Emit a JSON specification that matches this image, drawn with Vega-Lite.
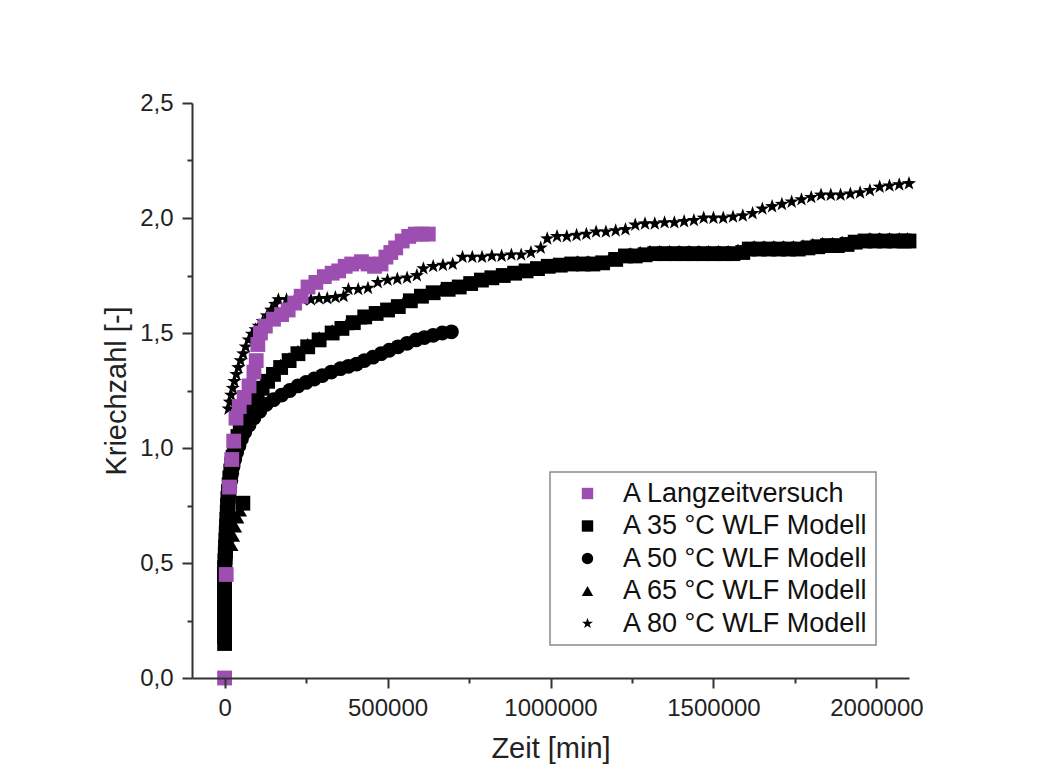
{
"$schema": "https://vega.github.io/schema/vega-lite/v6.json",
"width": 717,
"height": 575,
"autosize": "none",
"padding": {"left": 192, "top": 103, "right": 131, "bottom": 86},
"background": "white",
"data": {"values": [
{"s":"A 35 °C WLF Modell","t":0,"k":0.15},{"s":"A 35 °C WLF Modell","t":0,"k":0.18},{"s":"A 35 °C WLF Modell","t":0,"k":0.21},{"s":"A 35 °C WLF Modell","t":0,"k":0.24},{"s":"A 35 °C WLF Modell","t":0,"k":0.27},{"s":"A 35 °C WLF Modell","t":0,"k":0.30},{"s":"A 35 °C WLF Modell","t":0,"k":0.33},{"s":"A 35 °C WLF Modell","t":0,"k":0.36},{"s":"A 35 °C WLF Modell","t":0,"k":0.39},{"s":"A 35 °C WLF Modell","t":0,"k":0.42},{"s":"A 35 °C WLF Modell","t":0,"k":0.45},{"s":"A 35 °C WLF Modell","t":0,"k":0.48},
{"s":"A 35 °C WLF Modell","t":1000,"k":0.51},{"s":"A 35 °C WLF Modell","t":2000,"k":0.54},{"s":"A 35 °C WLF Modell","t":3000,"k":0.57},{"s":"A 35 °C WLF Modell","t":4000,"k":0.60},{"s":"A 35 °C WLF Modell","t":5000,"k":0.63},{"s":"A 35 °C WLF Modell","t":6000,"k":0.66},{"s":"A 35 °C WLF Modell","t":7000,"k":0.69},{"s":"A 35 °C WLF Modell","t":8000,"k":0.72},{"s":"A 35 °C WLF Modell","t":9000,"k":0.75},{"s":"A 35 °C WLF Modell","t":10000,"k":0.78},{"s":"A 35 °C WLF Modell","t":12000,"k":0.81},{"s":"A 35 °C WLF Modell","t":14000,"k":0.84},{"s":"A 35 °C WLF Modell","t":16000,"k":0.87},{"s":"A 35 °C WLF Modell","t":19000,"k":0.90},{"s":"A 35 °C WLF Modell","t":22000,"k":0.93},{"s":"A 35 °C WLF Modell","t":26000,"k":0.96},{"s":"A 35 °C WLF Modell","t":30000,"k":0.99},{"s":"A 35 °C WLF Modell","t":35000,"k":1.02},{"s":"A 35 °C WLF Modell","t":41000,"k":1.05},{"s":"A 35 °C WLF Modell","t":48000,"k":1.08},{"s":"A 35 °C WLF Modell","t":56000,"k":0.76},{"s":"A 35 °C WLF Modell","t":56000,"k":1.11},{"s":"A 35 °C WLF Modell","t":65000,"k":1.14},{"s":"A 35 °C WLF Modell","t":75000,"k":1.17},{"s":"A 35 °C WLF Modell","t":87000,"k":1.20},{"s":"A 35 °C WLF Modell","t":100000,"k":1.23},{"s":"A 35 °C WLF Modell","t":115000,"k":1.26},{"s":"A 35 °C WLF Modell","t":132000,"k":1.29},{"s":"A 35 °C WLF Modell","t":150000,"k":1.32},{"s":"A 35 °C WLF Modell","t":172000,"k":1.35},{"s":"A 35 °C WLF Modell","t":198000,"k":1.38},{"s":"A 35 °C WLF Modell","t":225000,"k":1.41},{"s":"A 35 °C WLF Modell","t":255000,"k":1.44},{"s":"A 35 °C WLF Modell","t":290000,"k":1.47},{"s":"A 35 °C WLF Modell","t":330000,"k":1.50},{"s":"A 35 °C WLF Modell","t":360000,"k":1.52},{"s":"A 35 °C WLF Modell","t":395000,"k":1.545},{"s":"A 35 °C WLF Modell","t":430000,"k":1.57},{"s":"A 35 °C WLF Modell","t":465000,"k":1.585},{"s":"A 35 °C WLF Modell","t":500000,"k":1.60},{"s":"A 35 °C WLF Modell","t":533000,"k":1.615},{"s":"A 35 °C WLF Modell","t":570000,"k":1.64},{"s":"A 35 °C WLF Modell","t":604000,"k":1.66},{"s":"A 35 °C WLF Modell","t":640000,"k":1.675},{"s":"A 35 °C WLF Modell","t":686000,"k":1.69},{"s":"A 35 °C WLF Modell","t":720000,"k":1.70},{"s":"A 35 °C WLF Modell","t":755000,"k":1.715},{"s":"A 35 °C WLF Modell","t":788000,"k":1.73},{"s":"A 35 °C WLF Modell","t":820000,"k":1.74},{"s":"A 35 °C WLF Modell","t":855000,"k":1.75},{"s":"A 35 °C WLF Modell","t":890000,"k":1.76},{"s":"A 35 °C WLF Modell","t":925000,"k":1.77},{"s":"A 35 °C WLF Modell","t":960000,"k":1.78},{"s":"A 35 °C WLF Modell","t":993000,"k":1.79},{"s":"A 35 °C WLF Modell","t":1030000,"k":1.795},{"s":"A 35 °C WLF Modell","t":1065000,"k":1.80},{"s":"A 35 °C WLF Modell","t":1100000,"k":1.80},{"s":"A 35 °C WLF Modell","t":1130000,"k":1.80},{"s":"A 35 °C WLF Modell","t":1160000,"k":1.805},{"s":"A 35 °C WLF Modell","t":1200000,"k":1.82},{"s":"A 35 °C WLF Modell","t":1230000,"k":1.835},{"s":"A 35 °C WLF Modell","t":1260000,"k":1.835},{"s":"A 35 °C WLF Modell","t":1290000,"k":1.84},{"s":"A 35 °C WLF Modell","t":1320000,"k":1.845},{"s":"A 35 °C WLF Modell","t":1350000,"k":1.845},{"s":"A 35 °C WLF Modell","t":1380000,"k":1.845},{"s":"A 35 °C WLF Modell","t":1410000,"k":1.845},{"s":"A 35 °C WLF Modell","t":1440000,"k":1.845},{"s":"A 35 °C WLF Modell","t":1470000,"k":1.845},{"s":"A 35 °C WLF Modell","t":1500000,"k":1.845},{"s":"A 35 °C WLF Modell","t":1530000,"k":1.845},{"s":"A 35 °C WLF Modell","t":1560000,"k":1.845},{"s":"A 35 °C WLF Modell","t":1590000,"k":1.85},{"s":"A 35 °C WLF Modell","t":1610000,"k":1.865},{"s":"A 35 °C WLF Modell","t":1640000,"k":1.865},{"s":"A 35 °C WLF Modell","t":1670000,"k":1.865},{"s":"A 35 °C WLF Modell","t":1700000,"k":1.865},{"s":"A 35 °C WLF Modell","t":1730000,"k":1.865},{"s":"A 35 °C WLF Modell","t":1760000,"k":1.865},{"s":"A 35 °C WLF Modell","t":1790000,"k":1.87},{"s":"A 35 °C WLF Modell","t":1820000,"k":1.875},{"s":"A 35 °C WLF Modell","t":1850000,"k":1.88},{"s":"A 35 °C WLF Modell","t":1880000,"k":1.88},{"s":"A 35 °C WLF Modell","t":1910000,"k":1.885},{"s":"A 35 °C WLF Modell","t":1935000,"k":1.895},{"s":"A 35 °C WLF Modell","t":1965000,"k":1.90},{"s":"A 35 °C WLF Modell","t":1995000,"k":1.90},{"s":"A 35 °C WLF Modell","t":2025000,"k":1.90},{"s":"A 35 °C WLF Modell","t":2055000,"k":1.90},{"s":"A 35 °C WLF Modell","t":2085000,"k":1.90},{"s":"A 35 °C WLF Modell","t":2100000,"k":1.90},
{"s":"A 50 °C WLF Modell","t":2000,"k":0.50},{"s":"A 50 °C WLF Modell","t":3000,"k":0.53},{"s":"A 50 °C WLF Modell","t":4000,"k":0.56},{"s":"A 50 °C WLF Modell","t":5000,"k":0.59},{"s":"A 50 °C WLF Modell","t":6000,"k":0.62},{"s":"A 50 °C WLF Modell","t":7000,"k":0.65},{"s":"A 50 °C WLF Modell","t":8000,"k":0.68},{"s":"A 50 °C WLF Modell","t":9000,"k":0.71},{"s":"A 50 °C WLF Modell","t":10000,"k":0.74},{"s":"A 50 °C WLF Modell","t":12000,"k":0.77},{"s":"A 50 °C WLF Modell","t":14000,"k":0.80},{"s":"A 50 °C WLF Modell","t":16000,"k":0.83},{"s":"A 50 °C WLF Modell","t":19000,"k":0.86},{"s":"A 50 °C WLF Modell","t":22000,"k":0.89},{"s":"A 50 °C WLF Modell","t":26000,"k":0.92},{"s":"A 50 °C WLF Modell","t":31000,"k":0.95},{"s":"A 50 °C WLF Modell","t":37000,"k":0.98},{"s":"A 50 °C WLF Modell","t":44000,"k":1.01},{"s":"A 50 °C WLF Modell","t":52000,"k":1.04},{"s":"A 50 °C WLF Modell","t":62000,"k":1.07},{"s":"A 50 °C WLF Modell","t":75000,"k":1.10},{"s":"A 50 °C WLF Modell","t":90000,"k":1.13},{"s":"A 50 °C WLF Modell","t":108000,"k":1.16},{"s":"A 50 °C WLF Modell","t":128000,"k":1.19},{"s":"A 50 °C WLF Modell","t":150000,"k":1.21},{"s":"A 50 °C WLF Modell","t":175000,"k":1.23},{"s":"A 50 °C WLF Modell","t":200000,"k":1.25},{"s":"A 50 °C WLF Modell","t":225000,"k":1.27},{"s":"A 50 °C WLF Modell","t":250000,"k":1.285},{"s":"A 50 °C WLF Modell","t":275000,"k":1.30},{"s":"A 50 °C WLF Modell","t":300000,"k":1.315},{"s":"A 50 °C WLF Modell","t":327000,"k":1.33},{"s":"A 50 °C WLF Modell","t":355000,"k":1.345},{"s":"A 50 °C WLF Modell","t":380000,"k":1.355},{"s":"A 50 °C WLF Modell","t":405000,"k":1.365},{"s":"A 50 °C WLF Modell","t":429000,"k":1.38},{"s":"A 50 °C WLF Modell","t":455000,"k":1.395},{"s":"A 50 °C WLF Modell","t":480000,"k":1.41},{"s":"A 50 °C WLF Modell","t":505000,"k":1.425},{"s":"A 50 °C WLF Modell","t":532000,"k":1.44},{"s":"A 50 °C WLF Modell","t":560000,"k":1.455},{"s":"A 50 °C WLF Modell","t":587000,"k":1.47},{"s":"A 50 °C WLF Modell","t":613000,"k":1.48},{"s":"A 50 °C WLF Modell","t":640000,"k":1.49},{"s":"A 50 °C WLF Modell","t":668000,"k":1.50},{"s":"A 50 °C WLF Modell","t":696000,"k":1.505},
{"s":"A 65 °C WLF Modell","t":20000,"k":0.58},{"s":"A 65 °C WLF Modell","t":25000,"k":0.62},{"s":"A 65 °C WLF Modell","t":31000,"k":0.66},{"s":"A 65 °C WLF Modell","t":38000,"k":0.70},{"s":"A 65 °C WLF Modell","t":46000,"k":0.73},{"s":"A 65 °C WLF Modell","t":18000,"k":0.92},{"s":"A 65 °C WLF Modell","t":24000,"k":0.96},{"s":"A 65 °C WLF Modell","t":30000,"k":1.0},{"s":"A 65 °C WLF Modell","t":36000,"k":1.03},
{"s":"A 65 °C WLF Modell","t":41000,"k":1.06},{"s":"A 65 °C WLF Modell","t":48000,"k":1.09},{"s":"A 65 °C WLF Modell","t":56000,"k":1.12},{"s":"A 65 °C WLF Modell","t":65000,"k":1.15},{"s":"A 65 °C WLF Modell","t":75000,"k":1.18},{"s":"A 65 °C WLF Modell","t":87000,"k":1.21},{"s":"A 65 °C WLF Modell","t":100000,"k":1.24},{"s":"A 65 °C WLF Modell","t":115000,"k":1.27},{"s":"A 65 °C WLF Modell","t":132000,"k":1.30},{"s":"A 65 °C WLF Modell","t":150000,"k":1.33},{"s":"A 65 °C WLF Modell","t":172000,"k":1.36},{"s":"A 65 °C WLF Modell","t":198000,"k":1.39},{"s":"A 65 °C WLF Modell","t":225000,"k":1.42},{"s":"A 65 °C WLF Modell","t":255000,"k":1.45},{"s":"A 65 °C WLF Modell","t":290000,"k":1.48},{"s":"A 65 °C WLF Modell","t":330000,"k":1.51},{"s":"A 65 °C WLF Modell","t":375000,"k":1.54},{"s":"A 65 °C WLF Modell","t":415000,"k":1.565},{"s":"A 65 °C WLF Modell","t":450000,"k":1.585},{"s":"A 65 °C WLF Modell","t":485000,"k":1.60},{"s":"A 65 °C WLF Modell","t":518000,"k":1.615},{"s":"A 65 °C WLF Modell","t":552000,"k":1.64},{"s":"A 65 °C WLF Modell","t":590000,"k":1.66},{"s":"A 65 °C WLF Modell","t":625000,"k":1.675},{"s":"A 65 °C WLF Modell","t":665000,"k":1.69},{"s":"A 65 °C WLF Modell","t":705000,"k":1.705},{"s":"A 65 °C WLF Modell","t":740000,"k":1.72},{"s":"A 65 °C WLF Modell","t":772000,"k":1.735},{"s":"A 65 °C WLF Modell","t":805000,"k":1.745},{"s":"A 65 °C WLF Modell","t":840000,"k":1.755},{"s":"A 65 °C WLF Modell","t":872000,"k":1.765},{"s":"A 65 °C WLF Modell","t":908000,"k":1.775},{"s":"A 65 °C WLF Modell","t":943000,"k":1.785},{"s":"A 65 °C WLF Modell","t":977000,"k":1.795},{"s":"A 65 °C WLF Modell","t":1012000,"k":1.80},{"s":"A 65 °C WLF Modell","t":1048000,"k":1.805},{"s":"A 65 °C WLF Modell","t":1083000,"k":1.81},{"s":"A 65 °C WLF Modell","t":1115000,"k":1.81},{"s":"A 65 °C WLF Modell","t":1145000,"k":1.81},{"s":"A 65 °C WLF Modell","t":1180000,"k":1.82},{"s":"A 65 °C WLF Modell","t":1215000,"k":1.835},{"s":"A 65 °C WLF Modell","t":1245000,"k":1.845},{"s":"A 65 °C WLF Modell","t":1275000,"k":1.85},{"s":"A 65 °C WLF Modell","t":1305000,"k":1.855},{"s":"A 65 °C WLF Modell","t":1335000,"k":1.855},{"s":"A 65 °C WLF Modell","t":1365000,"k":1.855},{"s":"A 65 °C WLF Modell","t":1395000,"k":1.855},{"s":"A 65 °C WLF Modell","t":1425000,"k":1.855},{"s":"A 65 °C WLF Modell","t":1455000,"k":1.855},{"s":"A 65 °C WLF Modell","t":1485000,"k":1.855},{"s":"A 65 °C WLF Modell","t":1515000,"k":1.855},{"s":"A 65 °C WLF Modell","t":1545000,"k":1.855},{"s":"A 65 °C WLF Modell","t":1575000,"k":1.86},{"s":"A 65 °C WLF Modell","t":1600000,"k":1.87},{"s":"A 65 °C WLF Modell","t":1625000,"k":1.875},{"s":"A 65 °C WLF Modell","t":1655000,"k":1.875},{"s":"A 65 °C WLF Modell","t":1685000,"k":1.875},{"s":"A 65 °C WLF Modell","t":1715000,"k":1.875},{"s":"A 65 °C WLF Modell","t":1745000,"k":1.875},{"s":"A 65 °C WLF Modell","t":1775000,"k":1.88},{"s":"A 65 °C WLF Modell","t":1805000,"k":1.885},{"s":"A 65 °C WLF Modell","t":1835000,"k":1.89},{"s":"A 65 °C WLF Modell","t":1865000,"k":1.89},{"s":"A 65 °C WLF Modell","t":1895000,"k":1.895},{"s":"A 65 °C WLF Modell","t":1920000,"k":1.90},{"s":"A 65 °C WLF Modell","t":1950000,"k":1.905},{"s":"A 65 °C WLF Modell","t":1980000,"k":1.91},{"s":"A 65 °C WLF Modell","t":2010000,"k":1.91},{"s":"A 65 °C WLF Modell","t":2040000,"k":1.91},{"s":"A 65 °C WLF Modell","t":2070000,"k":1.91},{"s":"A 65 °C WLF Modell","t":2095000,"k":1.91},
{"s":"A 80 °C WLF Modell","t":12000,"k":1.17},{"s":"A 80 °C WLF Modell","t":16000,"k":1.20},{"s":"A 80 °C WLF Modell","t":20000,"k":1.23},{"s":"A 80 °C WLF Modell","t":25000,"k":1.26},{"s":"A 80 °C WLF Modell","t":30000,"k":1.29},{"s":"A 80 °C WLF Modell","t":36000,"k":1.32},{"s":"A 80 °C WLF Modell","t":42000,"k":1.35},{"s":"A 80 °C WLF Modell","t":49000,"k":1.38},{"s":"A 80 °C WLF Modell","t":57000,"k":1.41},{"s":"A 80 °C WLF Modell","t":65000,"k":1.44},{"s":"A 80 °C WLF Modell","t":74000,"k":1.47},{"s":"A 80 °C WLF Modell","t":84000,"k":1.495},{"s":"A 80 °C WLF Modell","t":95000,"k":1.515},{"s":"A 80 °C WLF Modell","t":105000,"k":1.53},{"s":"A 80 °C WLF Modell","t":117000,"k":1.55},{"s":"A 80 °C WLF Modell","t":130000,"k":1.575},{"s":"A 80 °C WLF Modell","t":143000,"k":1.60},{"s":"A 80 °C WLF Modell","t":155000,"k":1.625},{"s":"A 80 °C WLF Modell","t":165000,"k":1.645},{"s":"A 80 °C WLF Modell","t":190000,"k":1.645},{"s":"A 80 °C WLF Modell","t":215000,"k":1.645},{"s":"A 80 °C WLF Modell","t":240000,"k":1.645},{"s":"A 80 °C WLF Modell","t":265000,"k":1.645},{"s":"A 80 °C WLF Modell","t":290000,"k":1.65},{"s":"A 80 °C WLF Modell","t":315000,"k":1.65},{"s":"A 80 °C WLF Modell","t":340000,"k":1.655},{"s":"A 80 °C WLF Modell","t":365000,"k":1.66},{"s":"A 80 °C WLF Modell","t":380000,"k":1.69},{"s":"A 80 °C WLF Modell","t":410000,"k":1.69},{"s":"A 80 °C WLF Modell","t":440000,"k":1.695},{"s":"A 80 °C WLF Modell","t":470000,"k":1.72},{"s":"A 80 °C WLF Modell","t":500000,"k":1.73},{"s":"A 80 °C WLF Modell","t":530000,"k":1.735},{"s":"A 80 °C WLF Modell","t":560000,"k":1.74},{"s":"A 80 °C WLF Modell","t":590000,"k":1.75},{"s":"A 80 °C WLF Modell","t":610000,"k":1.78},{"s":"A 80 °C WLF Modell","t":640000,"k":1.79},{"s":"A 80 °C WLF Modell","t":670000,"k":1.795},{"s":"A 80 °C WLF Modell","t":700000,"k":1.80},{"s":"A 80 °C WLF Modell","t":730000,"k":1.83},{"s":"A 80 °C WLF Modell","t":760000,"k":1.83},{"s":"A 80 °C WLF Modell","t":790000,"k":1.83},{"s":"A 80 °C WLF Modell","t":820000,"k":1.835},{"s":"A 80 °C WLF Modell","t":850000,"k":1.835},{"s":"A 80 °C WLF Modell","t":880000,"k":1.84},{"s":"A 80 °C WLF Modell","t":910000,"k":1.84},{"s":"A 80 °C WLF Modell","t":940000,"k":1.85},{"s":"A 80 °C WLF Modell","t":970000,"k":1.87},{"s":"A 80 °C WLF Modell","t":990000,"k":1.91},{"s":"A 80 °C WLF Modell","t":1020000,"k":1.92},{"s":"A 80 °C WLF Modell","t":1050000,"k":1.92},{"s":"A 80 °C WLF Modell","t":1080000,"k":1.925},{"s":"A 80 °C WLF Modell","t":1110000,"k":1.93},{"s":"A 80 °C WLF Modell","t":1140000,"k":1.94},{"s":"A 80 °C WLF Modell","t":1170000,"k":1.94},{"s":"A 80 °C WLF Modell","t":1200000,"k":1.945},{"s":"A 80 °C WLF Modell","t":1230000,"k":1.95},{"s":"A 80 °C WLF Modell","t":1260000,"k":1.97},{"s":"A 80 °C WLF Modell","t":1290000,"k":1.975},{"s":"A 80 °C WLF Modell","t":1320000,"k":1.975},{"s":"A 80 °C WLF Modell","t":1350000,"k":1.98},{"s":"A 80 °C WLF Modell","t":1380000,"k":1.98},{"s":"A 80 °C WLF Modell","t":1410000,"k":1.985},{"s":"A 80 °C WLF Modell","t":1440000,"k":1.99},{"s":"A 80 °C WLF Modell","t":1470000,"k":2.0},{"s":"A 80 °C WLF Modell","t":1500000,"k":2.0},{"s":"A 80 °C WLF Modell","t":1530000,"k":2.0},{"s":"A 80 °C WLF Modell","t":1560000,"k":2.005},{"s":"A 80 °C WLF Modell","t":1590000,"k":2.01},{"s":"A 80 °C WLF Modell","t":1620000,"k":2.02},{"s":"A 80 °C WLF Modell","t":1650000,"k":2.04},{"s":"A 80 °C WLF Modell","t":1680000,"k":2.05},{"s":"A 80 °C WLF Modell","t":1710000,"k":2.06},{"s":"A 80 °C WLF Modell","t":1740000,"k":2.07},{"s":"A 80 °C WLF Modell","t":1770000,"k":2.08},{"s":"A 80 °C WLF Modell","t":1800000,"k":2.09},{"s":"A 80 °C WLF Modell","t":1830000,"k":2.10},{"s":"A 80 °C WLF Modell","t":1860000,"k":2.10},{"s":"A 80 °C WLF Modell","t":1890000,"k":2.10},{"s":"A 80 °C WLF Modell","t":1920000,"k":2.105},{"s":"A 80 °C WLF Modell","t":1950000,"k":2.11},{"s":"A 80 °C WLF Modell","t":1980000,"k":2.12},{"s":"A 80 °C WLF Modell","t":2010000,"k":2.135},{"s":"A 80 °C WLF Modell","t":2040000,"k":2.14},{"s":"A 80 °C WLF Modell","t":2070000,"k":2.145},{"s":"A 80 °C WLF Modell","t":2100000,"k":2.15},
{"s":"A Langzeitversuch","t":0,"k":0.0},{"s":"A Langzeitversuch","t":5000,"k":0.45},{"s":"A Langzeitversuch","t":15000,"k":0.83},{"s":"A Langzeitversuch","t":22000,"k":0.95},{"s":"A Langzeitversuch","t":28000,"k":1.03},{"s":"A Langzeitversuch","t":35000,"k":1.13},{"s":"A Langzeitversuch","t":45000,"k":1.18},{"s":"A Langzeitversuch","t":60000,"k":1.22},{"s":"A Langzeitversuch","t":75000,"k":1.27},{"s":"A Langzeitversuch","t":90000,"k":1.33},{"s":"A Langzeitversuch","t":97000,"k":1.38},{"s":"A Langzeitversuch","t":102000,"k":1.45},{"s":"A Langzeitversuch","t":110000,"k":1.50},{"s":"A Langzeitversuch","t":125000,"k":1.53},{"s":"A Langzeitversuch","t":150000,"k":1.56},{"s":"A Langzeitversuch","t":175000,"k":1.58},{"s":"A Langzeitversuch","t":195000,"k":1.60},{"s":"A Langzeitversuch","t":215000,"k":1.63},{"s":"A Langzeitversuch","t":235000,"k":1.66},{"s":"A Langzeitversuch","t":256000,"k":1.70},{"s":"A Langzeitversuch","t":280000,"k":1.72},{"s":"A Langzeitversuch","t":306000,"k":1.745},{"s":"A Langzeitversuch","t":330000,"k":1.76},{"s":"A Langzeitversuch","t":350000,"k":1.77},{"s":"A Langzeitversuch","t":370000,"k":1.79},{"s":"A Langzeitversuch","t":390000,"k":1.80},{"s":"A Langzeitversuch","t":420000,"k":1.81},{"s":"A Langzeitversuch","t":440000,"k":1.80},{"s":"A Langzeitversuch","t":460000,"k":1.79},{"s":"A Langzeitversuch","t":480000,"k":1.80},{"s":"A Langzeitversuch","t":495000,"k":1.83},{"s":"A Langzeitversuch","t":510000,"k":1.85},{"s":"A Langzeitversuch","t":525000,"k":1.87},{"s":"A Langzeitversuch","t":545000,"k":1.90},{"s":"A Langzeitversuch","t":565000,"k":1.92},{"s":"A Langzeitversuch","t":585000,"k":1.93},{"s":"A Langzeitversuch","t":605000,"k":1.93},{"s":"A Langzeitversuch","t":625000,"k":1.93}
]},
"layer": [
{
"mark": {"type": "point", "opacity": 0},
"encoding": {
"x": {"field": "t", "type": "quantitative", "scale": {"domain": [-100000, 2100000], "nice": false, "zero": false},
"axis": {"orient": "bottom", "values": [250000, 750000, 1250000, 1750000], "labels": false, "domain": false, "title": null, "tickSize": 5, "zindex": 1}},
"y": {"field": "k", "type": "quantitative", "scale": {"domain": [0, 2.5], "nice": false, "zero": false},
"axis": {"orient": "left", "values": [0.25, 0.75, 1.25, 1.75, 2.25], "labels": false, "domain": false, "title": null, "tickSize": 5, "zindex": 1}}
}
},
{
"mark": {"type": "point", "filled": true, "opacity": 1, "size": 220},
"encoding": {
"x": {"field": "t", "type": "quantitative", "scale": {"domain": [-100000, 2100000], "nice": false, "zero": false},
"axis": {"orient": "bottom", "values": [0, 500000, 1000000, 1500000, 2000000], "format": "d", "title": "Zeit [min]", "tickSize": 10, "labelPadding": 8, "labelFontSize": 24, "titleFontSize": 29, "titlePadding": 14, "zindex": 1}},
"y": {"field": "k", "type": "quantitative", "scale": {"domain": [0, 2.5], "nice": false, "zero": false},
"axis": {"orient": "left", "values": [0, 0.5, 1, 1.5, 2, 2.5], "labelExpr": "replace(format(datum.value, '.1f'), '.', ',')", "title": "Kriechzahl [-]", "tickSize": 10, "labelPadding": 9, "labelFontSize": 24, "titleFontSize": 29, "titlePadding": 8, "zindex": 1}},
"shape": {"field": "s", "type": "nominal",
"scale": {"domain": ["A Langzeitversuch", "A 35 °C WLF Modell", "A 50 °C WLF Modell", "A 65 °C WLF Modell", "A 80 °C WLF Modell"],
"range": ["square", "square", "circle", "triangle-up", "M0,-1L0.235,-0.324L0.951,-0.309L0.38,0.124L0.588,0.809L0,0.4L-0.588,0.809L-0.38,0.124L-0.951,-0.309L-0.235,-0.324Z"]},
"legend": {"title": null, "orient": "bottom-right", "offset": 33, "labelFontSize": 27, "labelLimit": 400, "symbolSize": 130, "symbolOffset": 16, "labelOffset": 22, "rowPadding": 4.5}},
"color": {"field": "s", "type": "nominal", "scale": {"domain": ["A Langzeitversuch", "A 35 °C WLF Modell", "A 50 °C WLF Modell", "A 65 °C WLF Modell", "A 80 °C WLF Modell"], "range": ["#9d4fb1", "#000000", "#000000", "#000000", "#000000"]}}
}
}
],
"resolve": {"axis": {"x": "independent", "y": "independent"}},
"config": {
"font": "Liberation Sans",
"view": {"stroke": null},
"axis": {"grid": false, "domainColor": "#333333", "domainWidth": 2, "tickColor": "#333333", "tickWidth": 2, "labelColor": "#222222", "titleColor": "#222222", "labelFont": "Liberation Sans", "titleFont": "Liberation Sans", "titleFontWeight": "normal"},
"legend": {"labelFont": "Liberation Sans", "strokeColor": "#8a8a8a", "strokeWidth": 1.5, "fillColor": "white", "labelColor": "#111111", "padding": 8}
}
}
